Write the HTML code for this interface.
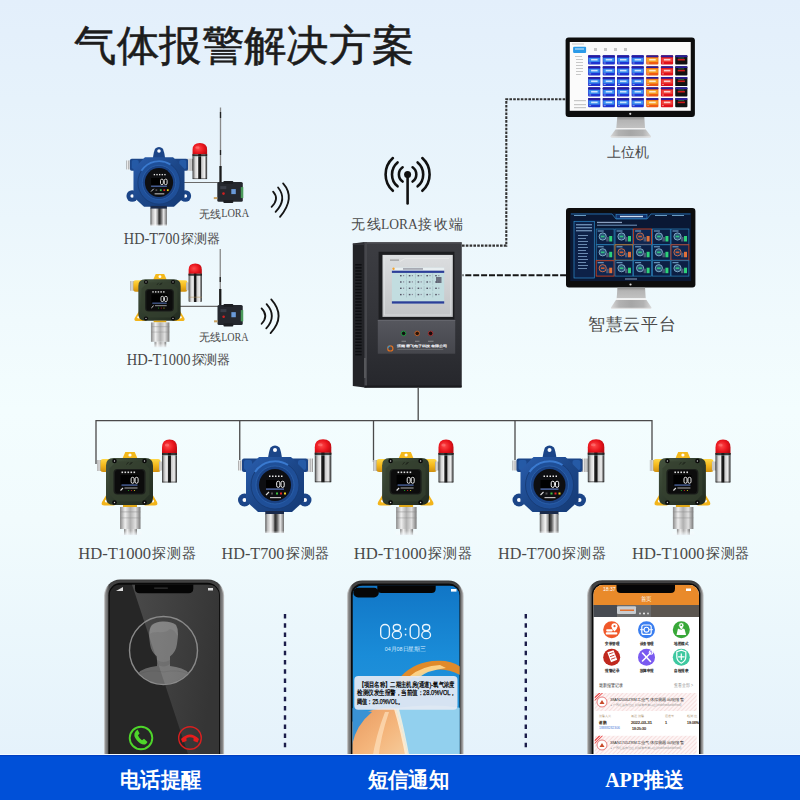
<!DOCTYPE html>
<html><head><meta charset="utf-8">
<style>
html,body{margin:0;padding:0;}
body{width:800px;height:800px;overflow:hidden;position:relative;
 background:linear-gradient(180deg,#e3effb 0px,#e6f2fb 100px,#ebf6fc 220px,#f0fafd 320px,#f3fdfe 410px,#f1fbfd 520px,#ebf7fc 630px,#e5f2fb 755px);
 font-family:"Liberation Sans",sans-serif;}
svg{position:absolute;left:0;top:0;}
.lbl{font-family:"Liberation Serif",serif;fill:#4a4a4a;}
</style></head><body>
<svg width="800" height="800" viewBox="0 0 800 800">
<defs>
 <linearGradient id="silver" x1="0" x2="1" y1="0" y2="0">
  <stop offset="0" stop-color="#5a5a5a"/><stop offset="0.12" stop-color="#bdbdbd"/><stop offset="0.3" stop-color="#f4f4f4"/>
  <stop offset="0.45" stop-color="#9a9a9a"/><stop offset="0.52" stop-color="#2a2a2a"/><stop offset="0.62" stop-color="#555"/>
  <stop offset="0.8" stop-color="#e6e6e6"/><stop offset="1" stop-color="#6a6a6a"/>
 </linearGradient>
 <linearGradient id="silver2" x1="0" x2="1" y1="0" y2="0">
  <stop offset="0" stop-color="#8a8a8a"/><stop offset="0.25" stop-color="#eeeeee"/><stop offset="0.5" stop-color="#b0b0b0"/>
  <stop offset="0.75" stop-color="#e0e0e0"/><stop offset="1" stop-color="#7a7a7a"/>
 </linearGradient>
 <linearGradient id="sensorfade" x1="0" x2="0" y1="0" y2="1">
  <stop offset="0" stop-color="#fff" stop-opacity="0"/><stop offset="0.7" stop-color="#fff" stop-opacity="0"/><stop offset="1" stop-color="#f0f8fc" stop-opacity="0.9"/>
 </linearGradient>
 <radialGradient id="reddome" cx="0.4" cy="0.45" r="0.65">
  <stop offset="0" stop-color="#ff4a4a"/><stop offset="0.6" stop-color="#e8141c"/><stop offset="1" stop-color="#b80a10"/>
 </radialGradient>
 <linearGradient id="yellow" x1="0" x2="0" y1="0" y2="1">
  <stop offset="0" stop-color="#ffd84a"/><stop offset="0.45" stop-color="#f6bb1e"/><stop offset="1" stop-color="#d09010"/>
 </linearGradient>
 <linearGradient id="olive" x1="0" x2="1" y1="0" y2="1">
  <stop offset="0" stop-color="#46543f"/><stop offset="0.5" stop-color="#2f3b2c"/><stop offset="1" stop-color="#222b20"/>
 </linearGradient>
 <linearGradient id="blueb" x1="0" x2="1" y1="0" y2="1">
  <stop offset="0" stop-color="#2a5eae"/><stop offset="0.5" stop-color="#1c4789"/><stop offset="1" stop-color="#143a76"/>
 </linearGradient>
 <g id="alarm">
  <path d="M1 1 L1 -5.5 Q1 -13.5 8.5 -13.5 Q16 -13.5 16 -5.5 L16 1 Z" fill="url(#reddome)"/>
  <ellipse cx="6" cy="-8" rx="2.2" ry="1.5" fill="#ff8a8a" opacity="0.5"/>
  <path d="M1 0 L16 0 L16 28.5 Q16 29.5 15 29.5 L2 29.5 Q1 29.5 1 28.5 Z" fill="url(#silverA)"/>
  <rect x="1" y="0" width="15" height="2.2" fill="#1a1a1a" opacity="0.85"/>
  <rect x="1" y="2.2" width="15" height="0.6" fill="#8fb8b8" opacity="0.6"/>
  <rect x="1" y="28.6" width="15" height="0.9" fill="#222" opacity="0.7"/>
 </g>
 <g id="t1000">
  <rect x="-32.5" y="-21.5" width="3.8" height="11" fill="url(#silver2)"/>
  <rect x="-29" y="-22.5" width="60" height="13" rx="2.5" fill="url(#yellow)"/>
  <path d="M-7 -23 L-4.2 -29.5 L5.2 -29.5 L8 -23 Z" fill="#f4b91c"/>
  <circle cx="0.5" cy="-26.5" r="1.6" fill="#fff"/>
  <path d="M-20 8 L-27.5 20.5 Q-29 24 -25 24 L-15 24 Z" fill="#f2b41a"/>
  <path d="M20 8 L27.5 20.5 Q29 24 25 24 L15 24 Z" fill="#f2b41a"/>
  <circle cx="-23" cy="19.5" r="1.6" fill="#fff"/><circle cx="23" cy="19.5" r="1.6" fill="#fff"/>
  <rect x="29.5" y="-20" width="4" height="9" fill="url(#silver2)"/>
  <path d="M-16 -23.5 L16 -23.5 Q23.5 -23.5 23.5 -16 L23.5 16 Q23.5 23.5 16 23.5 L-16 23.5 Q-23.5 23.5 -23.5 16 L-23.5 -16 Q-23.5 -23.5 -16 -23.5 Z" fill="url(#olive)"/>
  <path d="M-13 -20 L13 -20 L20 -13 L20 13 L13 20 L-13 20 L-20 13 L-20 -13 Z" fill="#34402f" opacity="0.7"/>
  <circle cx="-15" cy="-20.5" r="2.3" fill="#0a0a0a"/><circle cx="15" cy="-20.5" r="2.3" fill="#0a0a0a"/>
  <circle cx="-15" cy="21" r="2.3" fill="#0a0a0a"/><circle cx="15" cy="21" r="2.3" fill="#0a0a0a"/>
  <circle cx="-15" cy="-20.5" r="0.7" fill="#ccc"/><circle cx="15" cy="-20.5" r="0.7" fill="#ccc"/>
  <circle cx="-15" cy="21" r="0.7" fill="#ccc"/><circle cx="15" cy="21" r="0.7" fill="#ccc"/>
  <path d="M-3 -17 L-1 -19.5 M0 -17 L2 -19.5 M1 -17 L3 -19.5" stroke="#1a1f18" stroke-width="0.8"/>
  <rect x="-16" y="-12.5" width="32" height="25.5" rx="4" fill="#1a1d1a"/>
  <rect x="-14.5" y="-11.5" width="29" height="23.5" rx="3" fill="#0c0c0c"/>
  <g fill="#ddd"><rect x="-8" y="-10" width="1.6" height="1.6"/><rect x="-5" y="-10" width="1.6" height="1.6"/><rect x="-2" y="-10" width="1.6" height="1.6"/><rect x="1" y="-10" width="1.6" height="1.6"/><rect x="4" y="-10" width="1.6" height="1.6"/></g>
  <rect x="-9" y="-6.5" width="18" height="10" fill="#000"/>
  <rect x="1.6" y="-4.2" width="3" height="6" rx="1.5" fill="none" stroke="#f2f2f2" stroke-width="0.95"/><rect x="5.6" y="-4.2" width="3" height="6" rx="1.5" fill="none" stroke="#f2f2f2" stroke-width="0.95"/>
  <rect x="-8" y="3" width="16" height="1.1" fill="#5a78c0"/>
  <path d="M-9 9 L-6.5 6.5" stroke="#ddd" stroke-width="1.1"/>
  <rect x="-5" y="6" width="13" height="1" fill="#aaa"/>
  <circle cx="-1" cy="9" r="0.6" fill="#2a2"/><circle cx="2" cy="9" r="0.6" fill="#c22"/><circle cx="5" cy="9" r="0.6" fill="#cc2"/>
  <rect x="-6.5" y="23.5" width="14" height="2" fill="#e0a818"/>
  <rect x="-9.5" y="25.5" width="20.5" height="22" fill="url(#silver2)"/>
  <rect x="-9.5" y="30" width="20.5" height="0.8" fill="#888" opacity="0.6"/>
  <rect x="-9.5" y="36" width="20.5" height="0.8" fill="#888" opacity="0.5"/>
  <rect x="-5.5" y="47.5" width="13" height="6" fill="url(#silver2)"/>
  <rect x="-10" y="38" width="22" height="16" fill="url(#sensorfade)"/>
 </g>
 <g id="t700">
  <rect x="-37" y="-24.5" width="5" height="10" fill="url(#silver2)"/>
  <rect x="32.5" y="-26.5" width="5.5" height="13.5" fill="url(#silver2)"/>
  <rect x="-33" y="-26.5" width="66" height="13.5" rx="2" fill="#1b4588"/>
  <rect x="-31" y="-25" width="8" height="10" rx="2" fill="#255aa6"/>
  <rect x="23" y="-25" width="8" height="10" rx="2" fill="#255aa6"/>
  <path d="M-7 -27 Q-6 -34 -4.5 -37.5 Q0 -41.5 4.5 -37.5 Q6 -34 7 -27 Z" fill="#1b4588"/>
  <circle cx="0" cy="-35" r="2" fill="#fff"/>
  <circle cx="-30.5" cy="15" r="6.5" fill="#1b4588"/>
  <circle cx="30" cy="15" r="6.5" fill="#1b4588"/>
  <circle cx="-30.5" cy="15" r="2" fill="#fff"/>
  <circle cx="30" cy="15" r="2" fill="#fff"/>
  <path d="M-16 -28 L16 -28 L29 -15 L29 16 L17 27 L-17 27 L-29 16 L-29 -15 Z" fill="url(#blueb)"/>
  <rect x="-9.75" y="26" width="18.75" height="3.5" fill="#1a2a4a"/>
  <rect x="-9.75" y="29" width="18.75" height="19" fill="url(#silver)"/>
  <rect x="-10.5" y="38" width="20.5" height="11" fill="url(#sensorfade)"/>
  <circle cx="0" cy="0" r="24" fill="#1f4f98" stroke="#163a72" stroke-width="0.8"/>
  <path d="M-20 -13 A24 24 0 0 1 13 -20" fill="none" stroke="#3a7ad0" stroke-width="2"/>
  <circle cx="0" cy="0" r="19" fill="#1a4284" stroke="#2c64b0" stroke-width="0.8"/>
  <circle cx="0" cy="0" r="16" fill="#0e0f12"/>
  <g fill="#e8e8e8"><rect x="-6" y="-9.5" width="1.5" height="1.5"/><rect x="-3" y="-9.5" width="1.5" height="1.5"/><rect x="0" y="-9.5" width="1.5" height="1.5"/><rect x="3" y="-9.5" width="1.5" height="1.5"/><rect x="6" y="-9.5" width="1.5" height="1.5"/></g>
  <rect x="-9" y="-5" width="17" height="8" fill="#000"/>
  <rect x="1.7" y="-3.8" width="3.2" height="6.2" rx="1.6" fill="none" stroke="#f2f2f2" stroke-width="1"/><rect x="6" y="-3.8" width="3.2" height="6.2" rx="1.6" fill="none" stroke="#f2f2f2" stroke-width="1"/>
  <rect x="-9" y="3.5" width="18" height="1.2" fill="#5a78c0"/>
  <path d="M-9 10 L-6 7" stroke="#ddd" stroke-width="1.1"/>
  <rect x="-4" y="7.5" width="2" height="2" fill="#555"/>
  <rect x="1" y="7.5" width="2" height="2" fill="#3ec03e"/><rect x="5" y="7.5" width="2" height="2" fill="#e02424"/><rect x="9" y="7.5" width="2" height="2" fill="#e8d020"/>
  <rect x="-5" y="12" width="11" height="1.2" fill="#bbb"/>
 </g>
 <g id="lora">
  <rect x="0" y="0" width="25.5" height="19.7" rx="1.5" fill="#25282e"/>
  <rect x="6" y="-1" width="10" height="3" rx="1" fill="#1c1e22"/>
  <rect x="6" y="18" width="10" height="3" rx="1" fill="#1c1e22"/>
  <rect x="14" y="7" width="4.5" height="5" fill="#6a9ad8"/>
  <rect x="23.5" y="5" width="2.5" height="11" fill="#4a9a5a"/>
  <circle cx="6.2" cy="11.5" r="1.3" fill="#d02020"/>
  <rect x="3" y="4" width="6" height="3" fill="#3a3e48"/>
  <rect x="-3.5" y="15" width="3.5" height="2" fill="#c8a060"/>
 </g>
 <linearGradient id="neck" x1="0" x2="0" y1="0" y2="1">
  <stop offset="0" stop-color="#8e8e8e"/><stop offset="0.3" stop-color="#b4b4b4"/><stop offset="1" stop-color="#c2c2c2"/>
 </linearGradient>
 <linearGradient id="base" x1="0" x2="1" y1="0" y2="0">
  <stop offset="0" stop-color="#d8d8d8"/><stop offset="0.2" stop-color="#b2b2b2"/><stop offset="0.5" stop-color="#a6a6a6"/><stop offset="0.8" stop-color="#b2b2b2"/><stop offset="1" stop-color="#d8d8d8"/>
 </linearGradient>
 <linearGradient id="silverA" x1="0" x2="1" y1="0" y2="0">
  <stop offset="0" stop-color="#2a2a2a"/><stop offset="0.08" stop-color="#8a8a8a"/><stop offset="0.2" stop-color="#d8d8d8"/>
  <stop offset="0.36" stop-color="#f2f2f2"/><stop offset="0.42" stop-color="#222"/><stop offset="0.56" stop-color="#111"/>
  <stop offset="0.62" stop-color="#c8c8c8"/><stop offset="0.82" stop-color="#ededed"/><stop offset="0.93" stop-color="#666"/><stop offset="1" stop-color="#222"/>
 </linearGradient>
 <linearGradient id="pframe" x1="0" x2="1" y1="0" y2="0">
  <stop offset="0" stop-color="#b4b4b4"/><stop offset="0.015" stop-color="#c4c4c4"/><stop offset="0.045" stop-color="#3a3a3a"/>
  <stop offset="0.955" stop-color="#3a3a3a"/><stop offset="0.985" stop-color="#c4c4c4"/><stop offset="1" stop-color="#b4b4b4"/>
 </linearGradient>
</defs>

<!-- title -->
<text x="74" y="60" font-size="42" fill="#1c1c1c" font-family="Liberation Sans" textLength="340" lengthAdjust="spacingAndGlyphs" stroke="#1c1c1c" stroke-width="0.55">气体报警解决方案</text>


<!-- dashed connection lines -->
<path d="M462 245.6 L506.3 245.6 L506.3 99.2 L565.6 99.2" fill="none" stroke="#333" stroke-width="2.1" stroke-dasharray="2.6 1.2"/>
<path d="M462.5 275.3 L566 275.3" fill="none" stroke="#151515" stroke-width="2.1" stroke-dasharray="1 1.8 6 1.9 6 1.9 6 1.9 6 1.9 6 1.9 6 1.9 6 1.9 6 1.9 6 1.9 6 1.9 6 1.9 6 1.9 6 1.9 6 1.9"/>

<!-- monitor 1 -->
<g id="mon1">
 <rect x="565.6" y="37.4" width="129.3" height="79.7" rx="3" fill="#0d0d0d"/>
 <rect x="569.75" y="42" width="121" height="68.8" fill="#fbfbfb"/>
 <circle cx="630.25" cy="113.8" r="1.1" fill="#ddd"/>
 <path d="M617.3 117.1 L644.3 117.1 L645 128 L616.3 128 Z" fill="url(#neck)"/>
 <path d="M616 128 L645.3 128 L645.8 129.6 L615.5 129.6 Z" fill="#f2f2f2"/>
 <path d="M615.5 129.6 L645.8 129.6 L651 136.2 Q651 137.4 649.5 137.4 L612 137.4 Q610.5 137.4 610.5 136.2 Z" fill="url(#base)"/>
 <rect x="611" y="136.4" width="39.5" height="1" fill="#e6e6e6"/>
</g>
<g id="scr1">
 <rect x="573.1" y="46.7" width="13" height="6.2" rx="1" fill="#2a9ae8"/>
 <rect x="575" y="48.5" width="9" height="1" fill="#fff" opacity="0.8"/>
 <g fill="#c8c8c8">
  <rect x="575" y="56" width="7" height="1"/><rect x="576" y="59" width="7" height="1"/><rect x="576" y="62" width="7" height="1"/>
  <rect x="576" y="65" width="7" height="1"/><rect x="576" y="68" width="7" height="1"/><rect x="576" y="71" width="7" height="1"/>
  <rect x="576" y="74" width="5" height="1"/>
  <rect x="574" y="100" width="12" height="1.2"/><rect x="574" y="104" width="12" height="1.2"/><rect x="574" y="107" width="12" height="1.2"/>
  <rect x="594" y="48" width="3" height="3"/><rect x="604" y="48" width="3" height="3"/><rect x="614" y="48" width="3" height="3"/><rect x="624" y="48" width="3" height="3"/>
  <rect x="572" y="43.5" width="12" height="1"/>
 </g>
<rect x="588.1" y="55.3" width="12.2" height="9.2" rx="0.9" fill="#1e34d2"/>
<rect x="588.1" y="55.3" width="12.2" height="1.9" rx="0.6" fill="#2a1c9a"/>
<rect x="588.7" y="57.9" width="11" height="4" fill="#3a90f0"/>
<rect x="591.1" y="58.9" width="6.5" height="1.6" fill="#fff" opacity="0.75"/>
<rect x="589.1" y="62.6" width="2" height="0.8" fill="#fff" opacity="0.6"/>
<rect x="602.7" y="55.3" width="12.2" height="9.2" rx="0.9" fill="#1e34d2"/>
<rect x="602.7" y="55.3" width="12.2" height="1.9" rx="0.6" fill="#2a1c9a"/>
<rect x="603.3" y="57.9" width="11" height="4" fill="#3a90f0"/>
<rect x="605.7" y="58.9" width="6.5" height="1.6" fill="#fff" opacity="0.75"/>
<rect x="603.7" y="62.6" width="2" height="0.8" fill="#fff" opacity="0.6"/>
<rect x="617.0" y="55.3" width="12.2" height="9.2" rx="0.9" fill="#1e34d2"/>
<rect x="617.0" y="55.3" width="12.2" height="1.9" rx="0.6" fill="#2a1c9a"/>
<rect x="617.6" y="57.9" width="11" height="4" fill="#3a90f0"/>
<rect x="620.0" y="58.9" width="6.5" height="1.6" fill="#fff" opacity="0.75"/>
<rect x="618.0" y="62.6" width="2" height="0.8" fill="#fff" opacity="0.6"/>
<rect x="631.6" y="55.3" width="12.2" height="9.2" rx="0.9" fill="#1e34d2"/>
<rect x="631.6" y="55.3" width="12.2" height="1.9" rx="0.6" fill="#2a1c9a"/>
<rect x="632.2" y="57.9" width="11" height="4" fill="#3a90f0"/>
<rect x="634.6" y="58.9" width="6.5" height="1.6" fill="#fff" opacity="0.75"/>
<rect x="632.6" y="62.6" width="2" height="0.8" fill="#fff" opacity="0.6"/>
<rect x="646.2" y="55.3" width="12.2" height="9.2" rx="0.9" fill="#f05a12"/>
<rect x="646.2" y="55.3" width="12.2" height="1.9" rx="0.6" fill="#2a1c9a"/>
<rect x="646.8" y="57.9" width="11" height="4" fill="#f8a428"/>
<rect x="649.2" y="58.9" width="6.5" height="1.6" fill="#fff" opacity="0.75"/>
<rect x="647.2" y="62.6" width="2" height="0.8" fill="#fff" opacity="0.6"/>
<rect x="660.9" y="55.3" width="12.2" height="9.2" rx="0.9" fill="#e0101a"/>
<rect x="660.9" y="55.3" width="12.2" height="1.9" rx="0.6" fill="#2a1c9a"/>
<rect x="661.5" y="57.9" width="11" height="4" fill="#f04038"/>
<rect x="663.9" y="58.9" width="6.5" height="1.6" fill="#fff" opacity="0.75"/>
<rect x="661.9" y="62.6" width="2" height="0.8" fill="#fff" opacity="0.6"/>
<rect x="675.2" y="55.3" width="12.2" height="9.2" rx="0.9" fill="#121212"/>
<rect x="675.2" y="55.3" width="12.2" height="1.9" rx="0.6" fill="#2a1c9a"/>
<rect x="677.7" y="58.9" width="7.2" height="1.6" fill="#d01818"/>
<rect x="678.2" y="57.7" width="6" height="0.6" fill="#3a8a5a"/>
<rect x="588.1" y="66.2" width="12.2" height="9.2" rx="0.9" fill="#1e34d2"/>
<rect x="588.1" y="66.2" width="12.2" height="1.9" rx="0.6" fill="#2a1c9a"/>
<rect x="588.7" y="68.8" width="11" height="4" fill="#3a90f0"/>
<rect x="591.1" y="69.8" width="6.5" height="1.6" fill="#fff" opacity="0.75"/>
<rect x="589.1" y="73.5" width="2" height="0.8" fill="#fff" opacity="0.6"/>
<rect x="602.7" y="66.2" width="12.2" height="9.2" rx="0.9" fill="#1e34d2"/>
<rect x="602.7" y="66.2" width="12.2" height="1.9" rx="0.6" fill="#2a1c9a"/>
<rect x="603.3" y="68.8" width="11" height="4" fill="#3a90f0"/>
<rect x="605.7" y="69.8" width="6.5" height="1.6" fill="#fff" opacity="0.75"/>
<rect x="603.7" y="73.5" width="2" height="0.8" fill="#fff" opacity="0.6"/>
<rect x="617.0" y="66.2" width="12.2" height="9.2" rx="0.9" fill="#1e34d2"/>
<rect x="617.0" y="66.2" width="12.2" height="1.9" rx="0.6" fill="#2a1c9a"/>
<rect x="617.6" y="68.8" width="11" height="4" fill="#3a90f0"/>
<rect x="620.0" y="69.8" width="6.5" height="1.6" fill="#fff" opacity="0.75"/>
<rect x="618.0" y="73.5" width="2" height="0.8" fill="#fff" opacity="0.6"/>
<rect x="631.6" y="66.2" width="12.2" height="9.2" rx="0.9" fill="#1e34d2"/>
<rect x="631.6" y="66.2" width="12.2" height="1.9" rx="0.6" fill="#2a1c9a"/>
<rect x="632.2" y="68.8" width="11" height="4" fill="#3a90f0"/>
<rect x="634.6" y="69.8" width="6.5" height="1.6" fill="#fff" opacity="0.75"/>
<rect x="632.6" y="73.5" width="2" height="0.8" fill="#fff" opacity="0.6"/>
<rect x="646.2" y="66.2" width="12.2" height="9.2" rx="0.9" fill="#f05a12"/>
<rect x="646.2" y="66.2" width="12.2" height="1.9" rx="0.6" fill="#2a1c9a"/>
<rect x="646.8" y="68.8" width="11" height="4" fill="#f8a428"/>
<rect x="649.2" y="69.8" width="6.5" height="1.6" fill="#fff" opacity="0.75"/>
<rect x="647.2" y="73.5" width="2" height="0.8" fill="#fff" opacity="0.6"/>
<rect x="660.9" y="66.2" width="12.2" height="9.2" rx="0.9" fill="#e0101a"/>
<rect x="660.9" y="66.2" width="12.2" height="1.9" rx="0.6" fill="#2a1c9a"/>
<rect x="661.5" y="68.8" width="11" height="4" fill="#f04038"/>
<rect x="663.9" y="69.8" width="6.5" height="1.6" fill="#fff" opacity="0.75"/>
<rect x="661.9" y="73.5" width="2" height="0.8" fill="#fff" opacity="0.6"/>
<rect x="675.2" y="66.2" width="12.2" height="9.2" rx="0.9" fill="#121212"/>
<rect x="675.2" y="66.2" width="12.2" height="1.9" rx="0.6" fill="#2a1c9a"/>
<rect x="677.7" y="69.8" width="7.2" height="1.6" fill="#d01818"/>
<rect x="678.2" y="68.6" width="6" height="0.6" fill="#3a8a5a"/>
<rect x="588.1" y="76.9" width="12.2" height="9.2" rx="0.9" fill="#1e34d2"/>
<rect x="588.1" y="76.9" width="12.2" height="1.9" rx="0.6" fill="#2a1c9a"/>
<rect x="588.7" y="79.5" width="11" height="4" fill="#3a90f0"/>
<rect x="591.1" y="80.5" width="6.5" height="1.6" fill="#fff" opacity="0.75"/>
<rect x="589.1" y="84.2" width="2" height="0.8" fill="#fff" opacity="0.6"/>
<rect x="602.7" y="76.9" width="12.2" height="9.2" rx="0.9" fill="#1e34d2"/>
<rect x="602.7" y="76.9" width="12.2" height="1.9" rx="0.6" fill="#2a1c9a"/>
<rect x="603.3" y="79.5" width="11" height="4" fill="#3a90f0"/>
<rect x="605.7" y="80.5" width="6.5" height="1.6" fill="#fff" opacity="0.75"/>
<rect x="603.7" y="84.2" width="2" height="0.8" fill="#fff" opacity="0.6"/>
<rect x="617.0" y="76.9" width="12.2" height="9.2" rx="0.9" fill="#1e34d2"/>
<rect x="617.0" y="76.9" width="12.2" height="1.9" rx="0.6" fill="#2a1c9a"/>
<rect x="617.6" y="79.5" width="11" height="4" fill="#3a90f0"/>
<rect x="620.0" y="80.5" width="6.5" height="1.6" fill="#fff" opacity="0.75"/>
<rect x="618.0" y="84.2" width="2" height="0.8" fill="#fff" opacity="0.6"/>
<rect x="631.6" y="76.9" width="12.2" height="9.2" rx="0.9" fill="#1e34d2"/>
<rect x="631.6" y="76.9" width="12.2" height="1.9" rx="0.6" fill="#2a1c9a"/>
<rect x="632.2" y="79.5" width="11" height="4" fill="#3a90f0"/>
<rect x="634.6" y="80.5" width="6.5" height="1.6" fill="#fff" opacity="0.75"/>
<rect x="632.6" y="84.2" width="2" height="0.8" fill="#fff" opacity="0.6"/>
<rect x="646.2" y="76.9" width="12.2" height="9.2" rx="0.9" fill="#f05a12"/>
<rect x="646.2" y="76.9" width="12.2" height="1.9" rx="0.6" fill="#2a1c9a"/>
<rect x="646.8" y="79.5" width="11" height="4" fill="#f8a428"/>
<rect x="649.2" y="80.5" width="6.5" height="1.6" fill="#fff" opacity="0.75"/>
<rect x="647.2" y="84.2" width="2" height="0.8" fill="#fff" opacity="0.6"/>
<rect x="660.9" y="76.9" width="12.2" height="9.2" rx="0.9" fill="#e0101a"/>
<rect x="660.9" y="76.9" width="12.2" height="1.9" rx="0.6" fill="#2a1c9a"/>
<rect x="661.5" y="79.5" width="11" height="4" fill="#f04038"/>
<rect x="663.9" y="80.5" width="6.5" height="1.6" fill="#fff" opacity="0.75"/>
<rect x="661.9" y="84.2" width="2" height="0.8" fill="#fff" opacity="0.6"/>
<rect x="675.2" y="76.9" width="12.2" height="9.2" rx="0.9" fill="#121212"/>
<rect x="675.2" y="76.9" width="12.2" height="1.9" rx="0.6" fill="#2a1c9a"/>
<rect x="677.7" y="80.5" width="7.2" height="1.6" fill="#d01818"/>
<rect x="678.2" y="79.3" width="6" height="0.6" fill="#3a8a5a"/>
<rect x="588.1" y="87.3" width="12.2" height="9.2" rx="0.9" fill="#1e34d2"/>
<rect x="588.1" y="87.3" width="12.2" height="1.9" rx="0.6" fill="#2a1c9a"/>
<rect x="588.7" y="89.9" width="11" height="4" fill="#3a90f0"/>
<rect x="591.1" y="90.9" width="6.5" height="1.6" fill="#fff" opacity="0.75"/>
<rect x="589.1" y="94.6" width="2" height="0.8" fill="#fff" opacity="0.6"/>
<rect x="602.7" y="87.3" width="12.2" height="9.2" rx="0.9" fill="#1e34d2"/>
<rect x="602.7" y="87.3" width="12.2" height="1.9" rx="0.6" fill="#2a1c9a"/>
<rect x="603.3" y="89.9" width="11" height="4" fill="#3a90f0"/>
<rect x="605.7" y="90.9" width="6.5" height="1.6" fill="#fff" opacity="0.75"/>
<rect x="603.7" y="94.6" width="2" height="0.8" fill="#fff" opacity="0.6"/>
<rect x="617.0" y="87.3" width="12.2" height="9.2" rx="0.9" fill="#1e34d2"/>
<rect x="617.0" y="87.3" width="12.2" height="1.9" rx="0.6" fill="#2a1c9a"/>
<rect x="617.6" y="89.9" width="11" height="4" fill="#3a90f0"/>
<rect x="620.0" y="90.9" width="6.5" height="1.6" fill="#fff" opacity="0.75"/>
<rect x="618.0" y="94.6" width="2" height="0.8" fill="#fff" opacity="0.6"/>
<rect x="631.6" y="87.3" width="12.2" height="9.2" rx="0.9" fill="#1e34d2"/>
<rect x="631.6" y="87.3" width="12.2" height="1.9" rx="0.6" fill="#2a1c9a"/>
<rect x="632.2" y="89.9" width="11" height="4" fill="#3a90f0"/>
<rect x="634.6" y="90.9" width="6.5" height="1.6" fill="#fff" opacity="0.75"/>
<rect x="632.6" y="94.6" width="2" height="0.8" fill="#fff" opacity="0.6"/>
<rect x="646.2" y="87.3" width="12.2" height="9.2" rx="0.9" fill="#f05a12"/>
<rect x="646.2" y="87.3" width="12.2" height="1.9" rx="0.6" fill="#2a1c9a"/>
<rect x="646.8" y="89.9" width="11" height="4" fill="#f8a428"/>
<rect x="649.2" y="90.9" width="6.5" height="1.6" fill="#fff" opacity="0.75"/>
<rect x="647.2" y="94.6" width="2" height="0.8" fill="#fff" opacity="0.6"/>
<rect x="660.9" y="87.3" width="12.2" height="9.2" rx="0.9" fill="#e0101a"/>
<rect x="660.9" y="87.3" width="12.2" height="1.9" rx="0.6" fill="#2a1c9a"/>
<rect x="661.5" y="89.9" width="11" height="4" fill="#f04038"/>
<rect x="663.9" y="90.9" width="6.5" height="1.6" fill="#fff" opacity="0.75"/>
<rect x="661.9" y="94.6" width="2" height="0.8" fill="#fff" opacity="0.6"/>
<rect x="675.2" y="87.3" width="12.2" height="9.2" rx="0.9" fill="#121212"/>
<rect x="675.2" y="87.3" width="12.2" height="1.9" rx="0.6" fill="#2a1c9a"/>
<rect x="677.7" y="90.9" width="7.2" height="1.6" fill="#d01818"/>
<rect x="678.2" y="89.7" width="6" height="0.6" fill="#3a8a5a"/>
<rect x="588.1" y="98.0" width="12.2" height="9.2" rx="0.9" fill="#1e34d2"/>
<rect x="588.1" y="98.0" width="12.2" height="1.9" rx="0.6" fill="#2a1c9a"/>
<rect x="588.7" y="100.6" width="11" height="4" fill="#3a90f0"/>
<rect x="591.1" y="101.6" width="6.5" height="1.6" fill="#fff" opacity="0.75"/>
<rect x="589.1" y="105.3" width="2" height="0.8" fill="#fff" opacity="0.6"/>
<rect x="602.7" y="98.0" width="12.2" height="9.2" rx="0.9" fill="#1e34d2"/>
<rect x="602.7" y="98.0" width="12.2" height="1.9" rx="0.6" fill="#2a1c9a"/>
<rect x="603.3" y="100.6" width="11" height="4" fill="#3a90f0"/>
<rect x="605.7" y="101.6" width="6.5" height="1.6" fill="#fff" opacity="0.75"/>
<rect x="603.7" y="105.3" width="2" height="0.8" fill="#fff" opacity="0.6"/>
<rect x="617.0" y="98.0" width="12.2" height="9.2" rx="0.9" fill="#1e34d2"/>
<rect x="617.0" y="98.0" width="12.2" height="1.9" rx="0.6" fill="#2a1c9a"/>
<rect x="617.6" y="100.6" width="11" height="4" fill="#3a90f0"/>
<rect x="620.0" y="101.6" width="6.5" height="1.6" fill="#fff" opacity="0.75"/>
<rect x="618.0" y="105.3" width="2" height="0.8" fill="#fff" opacity="0.6"/>
<rect x="631.6" y="98.0" width="12.2" height="9.2" rx="0.9" fill="#1e34d2"/>
<rect x="631.6" y="98.0" width="12.2" height="1.9" rx="0.6" fill="#2a1c9a"/>
<rect x="632.2" y="100.6" width="11" height="4" fill="#3a90f0"/>
<rect x="634.6" y="101.6" width="6.5" height="1.6" fill="#fff" opacity="0.75"/>
<rect x="632.6" y="105.3" width="2" height="0.8" fill="#fff" opacity="0.6"/>
<rect x="646.2" y="98.0" width="12.2" height="9.2" rx="0.9" fill="#f05a12"/>
<rect x="646.2" y="98.0" width="12.2" height="1.9" rx="0.6" fill="#2a1c9a"/>
<rect x="646.8" y="100.6" width="11" height="4" fill="#f8a428"/>
<rect x="649.2" y="101.6" width="6.5" height="1.6" fill="#fff" opacity="0.75"/>
<rect x="647.2" y="105.3" width="2" height="0.8" fill="#fff" opacity="0.6"/>
<rect x="660.9" y="98.0" width="12.2" height="9.2" rx="0.9" fill="#e0101a"/>
<rect x="660.9" y="98.0" width="12.2" height="1.9" rx="0.6" fill="#2a1c9a"/>
<rect x="661.5" y="100.6" width="11" height="4" fill="#f04038"/>
<rect x="663.9" y="101.6" width="6.5" height="1.6" fill="#fff" opacity="0.75"/>
<rect x="661.9" y="105.3" width="2" height="0.8" fill="#fff" opacity="0.6"/>
<rect x="675.2" y="98.0" width="12.2" height="9.2" rx="0.9" fill="#121212"/>
<rect x="675.2" y="98.0" width="12.2" height="1.9" rx="0.6" fill="#2a1c9a"/>
<rect x="677.7" y="101.6" width="7.2" height="1.6" fill="#d01818"/>
<rect x="678.2" y="100.4" width="6" height="0.6" fill="#3a8a5a"/>
</g>

<!-- monitor 2 -->
<g>
 <rect x="566" y="208" width="129.4" height="79.6" rx="3" fill="#0d0d0d"/>
 <rect x="570.25" y="212.9" width="120.85" height="68.2" fill="#0a1834"/>
 <circle cx="630.5" cy="284.5" r="1.1" fill="#ddd"/>
 <path d="M617.4 287.6 L645 287.6 L645.7 298.3 L616.7 298.3 Z" fill="url(#neck)"/>
 <path d="M616.4 298.3 L646 298.3 L646.5 299.9 L615.9 299.9 Z" fill="#f2f2f2"/>
 <path d="M615.9 299.9 L646.5 299.9 L651.5 307.6 Q651.5 308.8 650 308.8 L612.5 308.8 Q611 308.8 611 307.6 Z" fill="url(#base)"/>
 <rect x="611.5" y="307.8" width="39.5" height="1" fill="#e6e6e6"/>
</g>


<g>
 <path d="M571 214 L612 214 L616 219 L647 219 L651 214 L690.4 214" fill="none" stroke="#2a7ab8" stroke-width="0.8"/>
 <rect x="616" y="214.5" width="31" height="4" fill="#12306a" stroke="#3a90d0" stroke-width="0.6"/>
 <rect x="620" y="215.8" width="23" height="1.4" fill="#cfe0f0"/>
 <rect x="574" y="215" width="12" height="1" fill="#6a9ac0"/><rect x="655" y="215" width="12" height="1" fill="#6a9ac0"/><rect x="672" y="215" width="12" height="1" fill="#6a9ac0"/>
 <rect x="574" y="221.3" width="20.3" height="56.7" fill="#0d2148" stroke="#2f8ed0" stroke-width="0.7"/>
 <g fill="#6a8ab0">
  <rect x="576" y="224" width="16" height="1.4"/><rect x="576" y="227" width="16" height="1.4"/><rect x="576" y="230" width="16" height="1.4"/>
  <rect x="578" y="235" width="10" height="1"/><rect x="578" y="238" width="8" height="1"/><rect x="578" y="241" width="10" height="1"/>
  <rect x="578" y="244" width="9" height="1"/><rect x="578" y="247" width="10" height="1"/><rect x="578" y="250" width="8" height="1"/>
  <rect x="578" y="253" width="10" height="1"/><rect x="578" y="256" width="9" height="1"/><rect x="578" y="259" width="10" height="1"/>
  <rect x="578" y="262" width="8" height="1"/><rect x="578" y="265" width="10" height="1"/><rect x="578" y="268" width="9" height="1"/>
 </g>
 <rect x="597" y="221.8" width="25" height="1.3" fill="#8aa0c0"/>
 <rect x="597" y="224.6" width="40" height="1.3" fill="#5a7aa0"/>
 <rect x="625" y="278.5" width="12" height="1" fill="#8aa0c0"/>
<rect x="596.2" y="229.0" width="17.9" height="15.4" fill="#0c1f44" stroke="#2a80b8" stroke-width="0.75"/>
<circle cx="602.7" cy="236.5" r="3.6" fill="#2a5478" stroke="#8ab4d0" stroke-width="0.9"/>
<rect x="600.9" y="235.7" width="3.6" height="1.6" fill="#30c080"/>
<rect x="609.2" y="236.0" width="3" height="5.5" fill="#2ed07a"/>
<rect x="606.2" y="237.0" width="2.5" height="4.5" fill="#4a5a78"/>
<rect x="597.7" y="230.5" width="6" height="1" fill="#7ab0d8"/>
<rect x="615.0" y="229.0" width="17.9" height="15.4" fill="#0c1f44" stroke="#2a80b8" stroke-width="0.75"/>
<circle cx="621.5" cy="236.5" r="3.6" fill="#2a5478" stroke="#8ab4d0" stroke-width="0.9"/>
<rect x="619.7" y="235.7" width="3.6" height="1.6" fill="#30c080"/>
<rect x="628.0" y="236.0" width="3" height="5.5" fill="#2ed07a"/>
<rect x="625.0" y="237.0" width="2.5" height="4.5" fill="#4a5a78"/>
<rect x="616.5" y="230.5" width="6" height="1" fill="#7ab0d8"/>
<rect x="633.6" y="229.0" width="17.9" height="15.4" fill="#0f2650" stroke="#c8401e" stroke-width="0.9"/>
<circle cx="640.1" cy="236.5" r="3.6" fill="#1a3a66" stroke="#c86a4a" stroke-width="1"/>
<rect x="638.3" y="235.7" width="3.6" height="1.6" fill="#d05a30"/>
<rect x="646.6" y="236.0" width="3" height="5.5" fill="#e0703a"/>
<rect x="643.6" y="237.0" width="2.5" height="4.5" fill="#4a5a78"/>
<rect x="635.1" y="230.5" width="6" height="1" fill="#7ab0d8"/>
<rect x="652.4" y="229.0" width="17.9" height="15.4" fill="#0c1f44" stroke="#2a80b8" stroke-width="0.75"/>
<circle cx="658.9" cy="236.5" r="3.6" fill="#2a5478" stroke="#8ab4d0" stroke-width="0.9"/>
<rect x="657.1" y="235.7" width="3.6" height="1.6" fill="#30c080"/>
<rect x="665.4" y="236.0" width="3" height="5.5" fill="#2ed07a"/>
<rect x="662.4" y="237.0" width="2.5" height="4.5" fill="#4a5a78"/>
<rect x="653.9" y="230.5" width="6" height="1" fill="#7ab0d8"/>
<rect x="671.0" y="229.0" width="17.9" height="15.4" fill="#0c1f44" stroke="#2a80b8" stroke-width="0.75"/>
<circle cx="677.5" cy="236.5" r="3.6" fill="#2a5478" stroke="#8ab4d0" stroke-width="0.9"/>
<rect x="675.7" y="235.7" width="3.6" height="1.6" fill="#30c080"/>
<rect x="684.0" y="236.0" width="3" height="5.5" fill="#2ed07a"/>
<rect x="681.0" y="237.0" width="2.5" height="4.5" fill="#4a5a78"/>
<rect x="672.5" y="230.5" width="6" height="1" fill="#7ab0d8"/>
<rect x="596.2" y="244.8" width="17.9" height="15.4" fill="#0c1f44" stroke="#2a80b8" stroke-width="0.75"/>
<circle cx="602.7" cy="252.3" r="3.6" fill="#2a5478" stroke="#8ab4d0" stroke-width="0.9"/>
<rect x="600.9" y="251.5" width="3.6" height="1.6" fill="#30c080"/>
<rect x="609.2" y="251.8" width="3" height="5.5" fill="#2ed07a"/>
<rect x="606.2" y="252.8" width="2.5" height="4.5" fill="#4a5a78"/>
<rect x="597.7" y="246.3" width="6" height="1" fill="#7ab0d8"/>
<rect x="615.0" y="244.8" width="17.9" height="15.4" fill="#0f2650" stroke="#d07a20" stroke-width="0.9"/>
<circle cx="621.5" cy="252.3" r="3.6" fill="#1a3a66" stroke="#c86a4a" stroke-width="1"/>
<rect x="619.7" y="251.5" width="3.6" height="1.6" fill="#d05a30"/>
<rect x="628.0" y="251.8" width="3" height="5.5" fill="#e0703a"/>
<rect x="625.0" y="252.8" width="2.5" height="4.5" fill="#4a5a78"/>
<rect x="616.5" y="246.3" width="6" height="1" fill="#7ab0d8"/>
<rect x="633.6" y="244.8" width="17.9" height="15.4" fill="#0c1f44" stroke="#2a80b8" stroke-width="0.75"/>
<circle cx="640.1" cy="252.3" r="3.6" fill="#2a5478" stroke="#8ab4d0" stroke-width="0.9"/>
<rect x="638.3" y="251.5" width="3.6" height="1.6" fill="#30c080"/>
<rect x="646.6" y="251.8" width="3" height="5.5" fill="#2ed07a"/>
<rect x="643.6" y="252.8" width="2.5" height="4.5" fill="#4a5a78"/>
<rect x="635.1" y="246.3" width="6" height="1" fill="#7ab0d8"/>
<rect x="652.4" y="244.8" width="17.9" height="15.4" fill="#0c1f44" stroke="#2a80b8" stroke-width="0.75"/>
<circle cx="658.9" cy="252.3" r="3.6" fill="#2a5478" stroke="#8ab4d0" stroke-width="0.9"/>
<rect x="657.1" y="251.5" width="3.6" height="1.6" fill="#30c080"/>
<rect x="665.4" y="251.8" width="3" height="5.5" fill="#2ed07a"/>
<rect x="662.4" y="252.8" width="2.5" height="4.5" fill="#4a5a78"/>
<rect x="653.9" y="246.3" width="6" height="1" fill="#7ab0d8"/>
<rect x="671.0" y="244.8" width="17.9" height="15.4" fill="#0f2650" stroke="#c8401e" stroke-width="0.9"/>
<circle cx="677.5" cy="252.3" r="3.6" fill="#1a3a66" stroke="#c86a4a" stroke-width="1"/>
<rect x="675.7" y="251.5" width="3.6" height="1.6" fill="#d05a30"/>
<rect x="684.0" y="251.8" width="3" height="5.5" fill="#e0703a"/>
<rect x="681.0" y="252.8" width="2.5" height="4.5" fill="#4a5a78"/>
<rect x="672.5" y="246.3" width="6" height="1" fill="#7ab0d8"/>
<rect x="596.2" y="260.7" width="17.9" height="15.4" fill="#0f2650" stroke="#c8401e" stroke-width="0.9"/>
<circle cx="602.7" cy="268.2" r="3.6" fill="#1a3a66" stroke="#c86a4a" stroke-width="1"/>
<rect x="600.9" y="267.4" width="3.6" height="1.6" fill="#d05a30"/>
<rect x="609.2" y="267.7" width="3" height="5.5" fill="#e0703a"/>
<rect x="606.2" y="268.7" width="2.5" height="4.5" fill="#4a5a78"/>
<rect x="597.7" y="262.2" width="6" height="1" fill="#7ab0d8"/>
<rect x="615.0" y="260.7" width="17.9" height="15.4" fill="#0c1f44" stroke="#2a80b8" stroke-width="0.75"/>
<circle cx="621.5" cy="268.2" r="3.6" fill="#2a5478" stroke="#8ab4d0" stroke-width="0.9"/>
<rect x="619.7" y="267.4" width="3.6" height="1.6" fill="#30c080"/>
<rect x="628.0" y="267.7" width="3" height="5.5" fill="#2ed07a"/>
<rect x="625.0" y="268.7" width="2.5" height="4.5" fill="#4a5a78"/>
<rect x="616.5" y="262.2" width="6" height="1" fill="#7ab0d8"/>
<rect x="633.6" y="260.7" width="17.9" height="15.4" fill="#0c1f44" stroke="#2a80b8" stroke-width="0.75"/>
<circle cx="640.1" cy="268.2" r="3.6" fill="#2a5478" stroke="#8ab4d0" stroke-width="0.9"/>
<rect x="638.3" y="267.4" width="3.6" height="1.6" fill="#30c080"/>
<rect x="646.6" y="267.7" width="3" height="5.5" fill="#2ed07a"/>
<rect x="643.6" y="268.7" width="2.5" height="4.5" fill="#4a5a78"/>
<rect x="635.1" y="262.2" width="6" height="1" fill="#7ab0d8"/>
<rect x="652.4" y="260.7" width="17.9" height="15.4" fill="#0c1f44" stroke="#2a80b8" stroke-width="0.75"/>
<circle cx="658.9" cy="268.2" r="3.6" fill="#2a5478" stroke="#8ab4d0" stroke-width="0.9"/>
<rect x="657.1" y="267.4" width="3.6" height="1.6" fill="#30c080"/>
<rect x="665.4" y="267.7" width="3" height="5.5" fill="#2ed07a"/>
<rect x="662.4" y="268.7" width="2.5" height="4.5" fill="#4a5a78"/>
<rect x="653.9" y="262.2" width="6" height="1" fill="#7ab0d8"/>
<rect x="671.0" y="260.7" width="17.9" height="15.4" fill="#0c1f44" stroke="#2a80b8" stroke-width="0.75"/>
<circle cx="677.5" cy="268.2" r="3.6" fill="#2a5478" stroke="#8ab4d0" stroke-width="0.9"/>
<rect x="675.7" y="267.4" width="3.6" height="1.6" fill="#30c080"/>
<rect x="684.0" y="267.7" width="3" height="5.5" fill="#2ed07a"/>
<rect x="681.0" y="268.7" width="2.5" height="4.5" fill="#4a5a78"/>
<rect x="672.5" y="262.2" width="6" height="1" fill="#7ab0d8"/>
</g>
<!-- labels -->

<!-- wireless antenna icon -->
<g fill="none" stroke="#111" stroke-width="2.6" stroke-linecap="round">
 <path d="M402.61 167.27 A8.7 8.7 0 0 0 402.61 181.53"/>
 <path d="M412.59 167.27 A8.7 8.7 0 0 1 412.59 181.53"/>
 <path d="M397.57 162.45 A15.6 15.6 0 0 0 397.57 186.35"/>
 <path d="M417.63 162.45 A15.6 15.6 0 0 1 417.63 186.35"/>
 <path d="M392.88 158.05 A22.0 22.0 0 0 0 392.88 190.75"/>
 <path d="M422.32 158.05 A22.0 22.0 0 0 1 422.32 190.75"/>
 <line x1="407.6" y1="176" x2="407.6" y2="203.5"/>
</g>
<circle cx="407.6" cy="174.4" r="3.5" fill="#111"/>

<!-- cabinet -->
<g>
 <defs>
  <linearGradient id="cabfront" x1="0" x2="0" y1="0" y2="1">
   <stop offset="0" stop-color="#3c3d42"/><stop offset="0.5" stop-color="#34353a"/><stop offset="1" stop-color="#26272c"/>
  </linearGradient>
  <linearGradient id="lcdframe" x1="0" x2="0" y1="0" y2="1">
   <stop offset="0" stop-color="#dcdee0"/><stop offset="1" stop-color="#c2c4c6"/>
  </linearGradient>
  <linearGradient id="ctrlpanel" x1="0" x2="0" y1="0" y2="1">
   <stop offset="0" stop-color="#56575e"/><stop offset="1" stop-color="#45464c"/>
  </linearGradient>
 </defs>
 <path d="M352.8 243.5 L364.5 242 L461.5 243 L461.5 387 L364.5 387.5 L352.8 386 Z" fill="#222327"/>
 <rect x="364.5" y="242" width="97" height="145.5" fill="url(#cabfront)"/>
 <rect x="364.5" y="242" width="97" height="1.5" fill="#55565b"/>
 <rect x="364.5" y="242" width="2.5" height="145.5" fill="#46474c"/>
 <rect x="352.8" y="243.5" width="11.7" height="1.2" fill="#3a3b40"/>
 <rect x="355.3" y="264.0" width="6.3" height="1.5" fill="#0e0f12"/><rect x="355.3" y="267.1" width="6.3" height="1.5" fill="#0e0f12"/><rect x="355.3" y="270.2" width="6.3" height="1.5" fill="#0e0f12"/><rect x="355.3" y="273.3" width="6.3" height="1.5" fill="#0e0f12"/><rect x="355.3" y="276.4" width="6.3" height="1.5" fill="#0e0f12"/><rect x="355.3" y="279.5" width="6.3" height="1.5" fill="#0e0f12"/><rect x="355.3" y="282.6" width="6.3" height="1.5" fill="#0e0f12"/><rect x="355.3" y="285.7" width="6.3" height="1.5" fill="#0e0f12"/><rect x="355.3" y="288.8" width="6.3" height="1.5" fill="#0e0f12"/><rect x="355.3" y="291.9" width="6.3" height="1.5" fill="#0e0f12"/><rect x="355.3" y="295.0" width="6.3" height="1.5" fill="#0e0f12"/><rect x="355.3" y="298.1" width="6.3" height="1.5" fill="#0e0f12"/><rect x="355.3" y="301.2" width="6.3" height="1.5" fill="#0e0f12"/><rect x="355.3" y="304.3" width="6.3" height="1.5" fill="#0e0f12"/><rect x="355.3" y="307.4" width="6.3" height="1.5" fill="#0e0f12"/><rect x="355.3" y="310.5" width="6.3" height="1.5" fill="#0e0f12"/><rect x="355.3" y="313.6" width="6.3" height="1.5" fill="#0e0f12"/><rect x="355.3" y="316.7" width="6.3" height="1.5" fill="#0e0f12"/><rect x="355.3" y="319.8" width="6.3" height="1.5" fill="#0e0f12"/><rect x="355.3" y="322.9" width="6.3" height="1.5" fill="#0e0f12"/><rect x="355.3" y="326.0" width="6.3" height="1.5" fill="#0e0f12"/><rect x="355.3" y="329.1" width="6.3" height="1.5" fill="#0e0f12"/><rect x="355.3" y="332.2" width="6.3" height="1.5" fill="#0e0f12"/><rect x="355.3" y="335.3" width="6.3" height="1.5" fill="#0e0f12"/><rect x="355.3" y="338.4" width="6.3" height="1.5" fill="#0e0f12"/><rect x="355.3" y="341.5" width="6.3" height="1.5" fill="#0e0f12"/><rect x="355.3" y="344.6" width="6.3" height="1.5" fill="#0e0f12"/><rect x="355.3" y="347.7" width="6.3" height="1.5" fill="#0e0f12"/><rect x="355.3" y="350.8" width="6.3" height="1.5" fill="#0e0f12"/><rect x="355.3" y="353.9" width="6.3" height="1.5" fill="#0e0f12"/>
 <rect x="364" y="358" width="2" height="20" fill="#55565a"/>
 <rect x="378.6" y="251.75" width="75.8" height="67.5" fill="#1c1d20"/>
 <rect x="382.5" y="254.9" width="70.3" height="62" fill="url(#lcdframe)"/>
 <rect x="384.5" y="257" width="66.3" height="58" fill="none" stroke="#e2e4e6" stroke-width="0.6"/>
 <rect x="390" y="259.5" width="9" height="1.2" fill="#999"/>
 <path d="M400 261.5 L405 258.5 L449 258.5" fill="none" stroke="#eee" stroke-width="0.6"/>
 <rect x="391.9" y="267.7" width="52.3" height="35.9" fill="#c2dde0"/>
 <rect x="391.9" y="267.7" width="52.3" height="3" fill="#e8eef0"/>
 <circle cx="393.5" cy="268.7" r="1.2" fill="#f0a030"/>
 <rect x="403" y="268.5" width="20" height="0.9" fill="#667"/>
 <rect x="391.9" y="270.7" width="52.3" height="2.2" fill="#2c3e98"/>
 <rect x="400.0" y="275.0" width="1.6" height="1.4" fill="#556"/><rect x="403.0" y="275.0" width="1.2" height="1.2" fill="#889"/><rect x="406.2" y="273.5" width="0.5" height="5" fill="#9ab4ba"/><rect x="408.8" y="275.0" width="1.6" height="1.4" fill="#556"/><rect x="411.8" y="275.0" width="1.2" height="1.2" fill="#889"/><rect x="415.0" y="273.5" width="0.5" height="5" fill="#9ab4ba"/><rect x="417.6" y="275.0" width="1.6" height="1.4" fill="#556"/><rect x="420.6" y="275.0" width="1.2" height="1.2" fill="#889"/><rect x="423.8" y="273.5" width="0.5" height="5" fill="#9ab4ba"/><rect x="426.4" y="275.0" width="1.6" height="1.4" fill="#556"/><rect x="429.4" y="275.0" width="1.2" height="1.2" fill="#889"/><rect x="432.6" y="273.5" width="0.5" height="5" fill="#9ab4ba"/><rect x="435.2" y="275.0" width="1.6" height="1.4" fill="#556"/><rect x="438.2" y="275.0" width="1.2" height="1.2" fill="#889"/><rect x="400.0" y="281.3" width="1.6" height="1.4" fill="#556"/><rect x="403.0" y="281.3" width="1.2" height="1.2" fill="#889"/><rect x="406.2" y="279.8" width="0.5" height="5" fill="#9ab4ba"/><rect x="408.8" y="281.3" width="1.6" height="1.4" fill="#556"/><rect x="411.8" y="281.3" width="1.2" height="1.2" fill="#889"/><rect x="415.0" y="279.8" width="0.5" height="5" fill="#9ab4ba"/><rect x="417.6" y="281.3" width="1.6" height="1.4" fill="#556"/><rect x="420.6" y="281.3" width="1.2" height="1.2" fill="#889"/><rect x="423.8" y="279.8" width="0.5" height="5" fill="#9ab4ba"/><rect x="426.4" y="281.3" width="1.6" height="1.4" fill="#556"/><rect x="429.4" y="281.3" width="1.2" height="1.2" fill="#889"/><rect x="432.6" y="279.8" width="0.5" height="5" fill="#9ab4ba"/><rect x="435.2" y="281.3" width="1.6" height="1.4" fill="#556"/><rect x="438.2" y="281.3" width="1.2" height="1.2" fill="#889"/><rect x="400.0" y="287.6" width="1.6" height="1.4" fill="#556"/><rect x="403.0" y="287.6" width="1.2" height="1.2" fill="#889"/><rect x="406.2" y="286.1" width="0.5" height="5" fill="#9ab4ba"/><rect x="408.8" y="287.6" width="1.6" height="1.4" fill="#556"/><rect x="411.8" y="287.6" width="1.2" height="1.2" fill="#889"/><rect x="415.0" y="286.1" width="0.5" height="5" fill="#9ab4ba"/><rect x="417.6" y="287.6" width="1.6" height="1.4" fill="#556"/><rect x="420.6" y="287.6" width="1.2" height="1.2" fill="#889"/><rect x="423.8" y="286.1" width="0.5" height="5" fill="#9ab4ba"/><rect x="426.4" y="287.6" width="1.6" height="1.4" fill="#556"/><rect x="429.4" y="287.6" width="1.2" height="1.2" fill="#889"/><rect x="432.6" y="286.1" width="0.5" height="5" fill="#9ab4ba"/><rect x="435.2" y="287.6" width="1.6" height="1.4" fill="#556"/><rect x="438.2" y="287.6" width="1.2" height="1.2" fill="#889"/><rect x="400.0" y="293.9" width="1.6" height="1.4" fill="#556"/><rect x="403.0" y="293.9" width="1.2" height="1.2" fill="#889"/><rect x="406.2" y="292.4" width="0.5" height="5" fill="#9ab4ba"/><rect x="408.8" y="293.9" width="1.6" height="1.4" fill="#556"/><rect x="411.8" y="293.9" width="1.2" height="1.2" fill="#889"/><rect x="415.0" y="292.4" width="0.5" height="5" fill="#9ab4ba"/><rect x="417.6" y="293.9" width="1.6" height="1.4" fill="#556"/><rect x="420.6" y="293.9" width="1.2" height="1.2" fill="#889"/><rect x="423.8" y="292.4" width="0.5" height="5" fill="#9ab4ba"/><rect x="426.4" y="293.9" width="1.6" height="1.4" fill="#556"/><rect x="429.4" y="293.9" width="1.2" height="1.2" fill="#889"/><rect x="432.6" y="292.4" width="0.5" height="5" fill="#9ab4ba"/><rect x="435.2" y="293.9" width="1.6" height="1.4" fill="#556"/><rect x="438.2" y="293.9" width="1.2" height="1.2" fill="#889"/>
 <rect x="436" y="277" width="5.5" height="6" fill="#556" opacity="0.8"/>
 <rect x="391.9" y="301.3" width="52.3" height="2.3" fill="#2c3e98"/>
 <rect x="377.8" y="320.2" width="77.4" height="33.5" fill="url(#ctrlpanel)"/>
 <rect x="377.8" y="320.2" width="77.4" height="0.8" fill="#6a6b72"/>
 <circle cx="403.6" cy="333.4" r="2.3" fill="#111" stroke="#1f9a40" stroke-width="1"/>
 <circle cx="417.2" cy="333.4" r="2.3" fill="#2a1408" stroke="#c0602a" stroke-width="1"/>
 <circle cx="430.6" cy="333.4" r="2.3" fill="#1a0a0a" stroke="#a03030" stroke-width="1"/>
 <g fill="#bbb" opacity="0.7"><rect x="401.5" y="340.8" width="4.5" height="0.8"/><rect x="415" y="340.8" width="4.5" height="0.8"/><rect x="428" y="340.8" width="5.5" height="0.8"/></g>
 <text x="397.3" y="347" font-size="3.4" fill="#f0f0f4" font-family="Liberation Sans" stroke="#f0f0f4" stroke-width="0.15" textLength="50" lengthAdjust="spacingAndGlyphs">济南赛飞电子科技有限公司</text>
 <rect x="397.3" y="348.9" width="46" height="0.7" fill="#aaa" opacity="0.5"/>
 <circle cx="390.3" cy="348.4" r="2.6" fill="none" stroke="#e07020" stroke-width="1.2"/>
 <path d="M388 348.4 A2.3 2.3 0 0 1 390.3 346" fill="none" stroke="#2a90d0" stroke-width="1.2"/>
 <rect x="364.5" y="385.5" width="97" height="2" fill="#1a1b1e"/>
</g>

<!-- wired bus -->
<g stroke="#4a4a4a" stroke-width="1.3" fill="none">
 <line x1="418.2" y1="387.5" x2="418.2" y2="421"/>
 <path d="M96 464 L96 420.7 L652 420.7 L652 464"/>
 <line x1="239.75" y1="420.7" x2="239.75" y2="460"/>
 <line x1="373.5" y1="420.7" x2="373.5" y2="462"/>
 <line x1="515" y1="420.7" x2="515" y2="460"/>
</g>

<!-- bottom devices -->
<use href="#t1000" transform="translate(129.5 481.5)"/>
<use href="#alarm" transform="translate(161 453)"/>
<use href="#t700" transform="translate(275 485)"/>
<use href="#alarm" transform="translate(313.7 452.75) scale(1.1 1)"/>
<use href="#t1000" transform="translate(405.6 481.5)"/>
<use href="#alarm" transform="translate(437.5 453)"/>
<use href="#t700" transform="translate(549.5 485)"/>
<use href="#alarm" transform="translate(586.7 452.75) scale(1.1 1)"/>
<use href="#t1000" transform="translate(682.4 481.5)"/>
<use href="#alarm" transform="translate(714.5 453)"/>


<!-- top-left devices -->
<line x1="180" y1="182.5" x2="219" y2="182.5" stroke="#6a6a6a" stroke-width="1.2"/>
<rect x="186.4" y="159" width="6.5" height="11.5" fill="url(#silver2)"/>
<use href="#t700" transform="translate(159 182.5) scale(0.88 0.9)"/>
<use href="#alarm" transform="translate(191.6 154.3) scale(0.97 0.84)"/>
<line x1="220.5" y1="107.5" x2="220.5" y2="168" stroke="#8a8a8a" stroke-width="1.3"/>
<line x1="220.5" y1="112" x2="220.5" y2="118" stroke="#222" stroke-width="1.3"/>
<line x1="220.5" y1="150" x2="220.5" y2="155" stroke="#222" stroke-width="1.3"/>
<line x1="220.5" y1="166" x2="220.5" y2="182.5" stroke="#1a1a1a" stroke-width="2.3"/>
<use href="#lora" transform="translate(217.3 182.1)"/>
<g fill="none" stroke="#151515" stroke-width="1.8" stroke-linecap="round">
 <path d="M273.1 191.6 Q279.65 198.75 271.6 206.9"/>
 <path d="M278.1 187.5 Q287.55 199.3 275.6 211.9"/>
 <path d="M283.1 183.4 Q295.95 197.85 280 216.9"/>
</g>

<line x1="180" y1="306.4" x2="219" y2="306.4" stroke="#6a6a6a" stroke-width="1.2"/>
<use href="#t1000" transform="translate(159.5 300) scale(0.9 0.88)"/>
<g transform="translate(187.75 273.75) scale(0.88 1)">
 <path d="M1 1 L1 -4 Q1 -10.2 8.5 -10.2 Q16 -10.2 16 -4 L16 1 Z" fill="url(#reddome)"/>
 <path d="M1 0 L16 0 L16 27.2 Q16 28.2 15 28.2 L2 28.2 Q1 28.2 1 27.2 Z" fill="url(#silverA)"/>
 <rect x="1" y="0" width="15" height="2" fill="#1a1a1a" opacity="0.85"/>
 <rect x="1" y="23" width="15" height="0.8" fill="#b08a50" opacity="0.6"/>
</g>
<line x1="220.25" y1="249" x2="220.25" y2="290" stroke="#8a8a8a" stroke-width="1.3"/>
<line x1="220.25" y1="277" x2="220.25" y2="282" stroke="#222" stroke-width="1.3"/>
<line x1="220.25" y1="289" x2="220.25" y2="306" stroke="#1a1a1a" stroke-width="2.3"/>
<use href="#lora" transform="translate(217.5 305) scale(0.99 1.02)"/>
<g fill="none" stroke="#151515" stroke-width="1.8" stroke-linecap="round">
 <path d="M261.6 308.4 Q269 316 261.6 323.75"/>
 <path d="M266.6 304.1 Q277.3 316.2 266.25 328.4"/>
 <path d="M271.25 299.4 Q286.3 316.2 270.6 333.1"/>
</g>

<!-- labels2 -->
<text class="lbl" x="606.55" y="157.16" font-size="13.76" textLength="42.00" lengthAdjust="spacing" fill="#525252">上位机</text>
<text class="lbl" x="588.33" y="330.00" font-size="16.67" textLength="87.33" lengthAdjust="spacing" fill="#525252">智慧云平台</text>
<text class="lbl" x="351.46" y="228.58" font-size="13.55" textLength="29.28" lengthAdjust="spacing" fill="#525252">无线</text>
<text class="lbl" x="381.10" y="228.75" font-size="15.33" textLength="36.76" lengthAdjust="spacingAndGlyphs" fill="#525252">LORA</text>
<text class="lbl" x="418.21" y="228.58" font-size="13.55" textLength="44.83" lengthAdjust="spacing" fill="#525252">接收端</text>
<text class="lbl" x="199.47" y="217.92" font-size="10.86" textLength="21.07" lengthAdjust="spacing" fill="#525252">无线</text>
<text class="lbl" x="221.13" y="217.25" font-size="11.86" textLength="27.99" lengthAdjust="spacingAndGlyphs" fill="#525252">LORA</text>
<text class="lbl" x="199.47" y="341.32" font-size="10.86" textLength="21.07" lengthAdjust="spacing" fill="#525252">无线</text>
<text class="lbl" x="221.13" y="340.65" font-size="11.86" textLength="27.39" lengthAdjust="spacingAndGlyphs" fill="#525252">LORA</text>
<text class="lbl" x="78.22" y="558.75" font-size="17.75" textLength="72.79" lengthAdjust="spacingAndGlyphs" fill="#525252">HD-T1000</text>
<text class="lbl" x="152.27" y="558.01" font-size="14.30" textLength="43.61" lengthAdjust="spacing" fill="#525252">探测器</text>
<text class="lbl" x="221.52" y="558.75" font-size="17.75" textLength="62.91" lengthAdjust="spacingAndGlyphs" fill="#525252">HD-T700</text>
<text class="lbl" x="285.69" y="558.01" font-size="14.30" textLength="43.69" lengthAdjust="spacing" fill="#525252">探测器</text>
<text class="lbl" x="353.82" y="558.75" font-size="17.75" textLength="73.01" lengthAdjust="spacingAndGlyphs" fill="#525252">HD-T1000</text>
<text class="lbl" x="428.08" y="558.01" font-size="14.30" textLength="43.74" lengthAdjust="spacing" fill="#525252">探测器</text>
<text class="lbl" x="498.02" y="558.75" font-size="17.75" textLength="62.91" lengthAdjust="spacingAndGlyphs" fill="#525252">HD-T700</text>
<text class="lbl" x="562.19" y="558.01" font-size="14.30" textLength="43.69" lengthAdjust="spacing" fill="#525252">探测器</text>
<text class="lbl" x="632.07" y="558.75" font-size="17.75" textLength="72.57" lengthAdjust="spacingAndGlyphs" fill="#525252">HD-T1000</text>
<text class="lbl" x="705.90" y="558.01" font-size="14.30" textLength="43.47" lengthAdjust="spacing" fill="#525252">探测器</text>
<text class="lbl" x="123.84" y="243.50" font-size="16.16" textLength="55.76" lengthAdjust="spacingAndGlyphs" fill="#525252">HD-T700</text>
<text class="lbl" x="180.91" y="243.02" font-size="13.12" textLength="38.61" lengthAdjust="spacing" fill="#525252">探测器</text>
<text class="lbl" x="126.84" y="364.50" font-size="15.86" textLength="63.61" lengthAdjust="spacingAndGlyphs" fill="#525252">HD-T1000</text>
<text class="lbl" x="191.79" y="364.06" font-size="12.69" textLength="37.97" lengthAdjust="spacing" fill="#525252">探测器</text>
<!-- dotted separators -->
<line x1="285" y1="614" x2="285" y2="750" stroke="#1b1d4a" stroke-width="2.4" stroke-dasharray="4.5 4.7"/>
<line x1="525.8" y1="614" x2="525.8" y2="750" stroke="#1b1d4a" stroke-width="2.4" stroke-dasharray="4.5 4.7"/>

<!-- phone 1 -->
<g>
 <defs>
  <linearGradient id="frame" x1="0" x2="1" y1="0" y2="0">
   <stop offset="0" stop-color="#9a9a9a"/><stop offset="0.03" stop-color="#d8d8d8"/><stop offset="0.06" stop-color="#3a3a3a"/>
   <stop offset="0.94" stop-color="#3a3a3a"/><stop offset="0.97" stop-color="#d0d0d0"/><stop offset="1" stop-color="#8a8a8a"/>
  </linearGradient>
  <linearGradient id="sheen1" x1="0" y1="0" x2="1" y2="0.3">
   <stop offset="0" stop-color="#4a4a4a"/><stop offset="1" stop-color="#353535"/>
  </linearGradient>
 </defs>
 <rect x="104.2" y="579.5" width="119.9" height="200" rx="16" fill="url(#pframe)"/>
 <rect x="105.2" y="580.5" width="117.9" height="200" rx="15" fill="#4a4a4a" opacity="0.5"/>
 <rect x="108.4" y="582.8" width="111.5" height="200" rx="12.5" fill="#0a0a0a"/>
 <clipPath id="p1clip"><rect x="109.5" y="584.5" width="109.5" height="200" rx="11"/></clipPath>
 <g clip-path="url(#p1clip)">
  <rect x="109.5" y="584.5" width="109.5" height="200" fill="#262626"/>
  <path d="M132 584.5 L219 584.5 L219 760 L190 760 Z" fill="url(#sheen1)"/>
 </g>
 <path d="M135 584.5 L193.3 584.5 L193.3 588.5 Q193.3 593.2 188.6 593.2 L139.7 593.2 Q135 593.2 135 588.5 Z" fill="#050505"/>
 <rect x="154" y="587.5" width="14" height="1.2" rx="0.6" fill="#333"/>
 <path d="M116 591 L123 587 L123 591 Z" fill="#ddd"/>
 <rect x="208" y="588" width="5" height="2.5" fill="#ddd"/>
 <circle cx="163.5" cy="650.5" r="34" fill="none" stroke="#8a8a8a" stroke-width="1.4"/>
 <clipPath id="avclip"><circle cx="163.5" cy="650.5" r="33.3"/></clipPath>
 <g clip-path="url(#avclip)" fill="#fff" fill-opacity="0.3">
  <path d="M149.5 640 Q148 630 152 625 Q157 621 164 621.5 Q172 621.5 176 625 Q179 630 177.5 640 L177 644 Q176 652 170 656.5 L170 666 L176 667 Q188 669 190.5 677 L191 692 L136 692 L136.5 677 Q139 669 151 667 L157 666 L157 656.5 Q151 652 150 644 Z"/>
 </g>
 <path d="M149.5 634 Q148.5 626 153 623.5 Q158 621 164 621.5 Q171 621.5 175.5 624 Q179 628 177.5 636 Q175 630 170 629 Q166 633 158 632 Q152 632 149.5 634 Z" fill="#fff" fill-opacity="0.07"/>
 <path d="M157 660 Q163.5 664 170 660 L170 664 Q163.5 669 157 664 Z" fill="#000" fill-opacity="0.08"/>
 <path d="M139 674 Q150 669 163.5 672 Q177 669 189 674" fill="none" stroke="#000" stroke-opacity="0.06" stroke-width="1"/>
 <circle cx="141" cy="738" r="11.3" fill="none" stroke="#4ed62a" stroke-width="1.9"/>
 <path d="M135.5 731.5 Q132.5 735 137 740.5 Q142 746 146 744 L147.5 742 L144 738.8 L142 740.3 Q138.8 737.8 137.9 735.2 L139.6 733.6 L137.5 729.6 Z" fill="#4ed62a"/>
 <circle cx="190" cy="738" r="11.3" fill="none" stroke="#d82020" stroke-width="1.4"/>
 <path d="M181 739 Q190 730 199 739 L197.5 742.5 L193.5 741 L193.5 738 Q190 736.5 186.5 738 L186.5 741 L182.5 742.5 Z" fill="#e81c1c"/>
</g>

<!-- phone 2 -->
<g>
 <defs>
  <linearGradient id="p2bg" x1="0" y1="0" x2="0" y2="1">
   <stop offset="0" stop-color="#1176c6"/><stop offset="0.4" stop-color="#1a8cd8"/><stop offset="1" stop-color="#2c9ade"/>
  </linearGradient>
  <linearGradient id="p2org" x1="0" y1="0" x2="1" y2="1">
   <stop offset="0" stop-color="#e89a60"/><stop offset="0.5" stop-color="#f4b47a"/><stop offset="1" stop-color="#f6cfa0"/>
  </linearGradient>
 </defs>
 <rect x="347.2" y="580.5" width="116.3" height="200" rx="15" fill="url(#pframe)"/>
 <rect x="348.2" y="581.5" width="114.3" height="200" rx="14" fill="#4a4a4a" opacity="0.5"/>
 <rect x="351" y="583.5" width="109.2" height="200" rx="11.5" fill="#0a0a0a"/>
 <clipPath id="p2clip"><rect x="352.5" y="585.5" width="107.2" height="200" rx="10"/></clipPath>
 <g clip-path="url(#p2clip)">
  <rect x="352.5" y="585.5" width="107.2" height="175" fill="url(#p2bg)"/>
  <path d="M398 680 Q410 664 432 661 Q452 659 462 668 L462 676 Q448 668 432 670 Q414 674 405 684 Z" fill="#e08a2a"/>
  <path d="M410 676 Q422 666 440 665 L446 668 Q428 670 418 678 Z" fill="#ffd890" opacity="0.9"/>
  <path d="M352 722 Q368 706 396 708 Q403 732 409 760 L352 760 Z" fill="url(#p2org)"/>
  <path d="M352 708 L352 745 Q356 725 372 712 Z" fill="#3a92d4"/>
  <path d="M396 708 Q430 703 462 708 L462 760 L409 760 Q403 732 396 708 Z" fill="#92d0ee"/>
  <path d="M394 709 Q401 732 406 760 L410 760 Q405 732 399 709 Z" fill="#fff2dc" opacity="0.8"/>
  <path d="M372 760 Q376 735 385 712 L389 712 Q381 735 378 760 Z" fill="#fde0bc" opacity="0.7"/>
 </g>
 <path d="M377.3 585.5 L435.7 585.5 L435.7 588.8 Q435.7 593 431.5 593 L381.5 593 Q377.3 593 377.3 588.8 Z" fill="#050505"/>
 <rect x="353.3" y="587.8" width="25.5" height="9.7" rx="4.8" fill="#070707"/>
 <rect x="451" y="589" width="5.5" height="2.6" fill="#fff"/>
 <g fill="none" stroke="#eaf5fd" stroke-width="1.35"><rect x="380.70" y="624.5" width="8.70" height="14.1" rx="4.35"/><ellipse cx="396.90" cy="627.6" rx="3.6" ry="3.1"/><ellipse cx="396.90" cy="634.9" rx="4.50" ry="3.75"/><rect x="410.20" y="624.5" width="8.70" height="14.1" rx="4.35"/><ellipse cx="426.15" cy="627.6" rx="3.6" ry="3.1"/><ellipse cx="426.15" cy="634.9" rx="4.35" ry="3.75"/></g><circle cx="405.6" cy="629.2" r="0.85" fill="#eaf5fd"/><circle cx="405.6" cy="634.7" r="0.85" fill="#eaf5fd"/>
 <text x="384.7" y="651" font-size="5.5" fill="#d8ecff" textLength="41.3" lengthAdjust="spacingAndGlyphs" font-family="Liberation Sans">04月08日星期三</text>
 <rect x="354.3" y="676" width="103.2" height="33.7" rx="4" fill="#e4eaf3" opacity="0.93"/>
 <g font-family="Liberation Sans" fill="#000" font-size="7.2" stroke="#000" stroke-width="0.25">
  <text x="358.5" y="686.5" textLength="96" lengthAdjust="spacingAndGlyphs">【项目名称】二期主机房(通道)-氧气浓度</text>
  <text x="357" y="695" textLength="99" lengthAdjust="spacingAndGlyphs">检测仪发生报警，当前值：28.0%VOL，</text>
  <text x="357" y="704" textLength="46" lengthAdjust="spacingAndGlyphs">阈值：25.0%VOL。</text>
 </g>
</g>

<!-- phone 3 -->
<g>
 <rect x="587.2" y="580.3" width="116.3" height="200" rx="15" fill="url(#pframe)"/>
 <rect x="588.2" y="581.3" width="114.3" height="200" rx="14" fill="#4a4a4a" opacity="0.5"/>
 <rect x="591.8" y="583.3" width="108.6" height="200" rx="11.5" fill="#0a0a0a"/>
 <clipPath id="p3clip"><rect x="593.3" y="584.8" width="105.7" height="200" rx="10"/></clipPath>
 <g clip-path="url(#p3clip)">
  <rect x="593.3" y="584.8" width="105.7" height="175" fill="#ffffff"/>
  <rect x="593.3" y="584.8" width="105.7" height="20.2" fill="#e98a2a"/>
  <rect x="593.3" y="605" width="105.7" height="12" fill="#474b52"/>
  <rect x="640" y="605" width="59" height="12" fill="#5c5650"/>
  <rect x="617" y="605" width="34" height="12" fill="#6a6a6a"/>
  <rect x="617" y="606.3" width="19" height="7.7" rx="1" fill="#c8ccd0"/>
  <rect x="620" y="609.5" width="14" height="1.5" fill="#e07030"/>
 </g>
 <path d="M616.5 584.8 L675 584.8 L675 588.8 Q675 593 670.8 593 L620.7 593 Q616.5 593 616.5 588.8 Z" fill="#050505"/>
 <text x="603" y="591" font-size="5" fill="#fff" font-family="Liberation Sans">18:37</text>
 <rect x="686" y="588.5" width="5" height="2.5" fill="#fff"/>
 <text x="640.5" y="600.5" font-size="6" fill="#fff" font-family="Liberation Sans" textLength="11" lengthAdjust="spacingAndGlyphs">首页</text>
 <circle cx="640" cy="613.5" r="0.9" fill="#ddd"/><circle cx="644" cy="613.5" r="0.9" fill="#fff"/><circle cx="648" cy="613.5" r="0.9" fill="#ddd"/>
 <circle cx="611.7" cy="629.8" r="8.5" fill="#f0582a"/>
 <circle cx="646.5" cy="629.8" r="8.5" fill="#3a7ef0"/>
 <circle cx="681.3" cy="629.8" r="8.5" fill="#38a838"/>
 <circle cx="611.7" cy="657.2" r="8.5" fill="#c0281e"/>
 <circle cx="646.5" cy="657.2" r="8.5" fill="#7a5af0"/>
 <circle cx="681.3" cy="657.2" r="8.5" fill="#3ec8a0"/>
 <g fill="#fff">
  <path d="M614.5 623.2 Q617.6 623.2 617.6 626.2 Q617.6 628.3 614.5 631.5 Q611.4 628.3 611.4 626.2 Q611.4 623.2 614.5 623.2 Z"/>
  <rect x="606.2" y="629.3" width="6.5" height="2.1" rx="0.8"/><rect x="605.8" y="632.3" width="11.5" height="2.3" rx="0.8"/>
  <path d="M676.5 635 L678 628.5 L680 629.5 L682.6 628.3 L684.6 629.3 L686.1 635 Z"/>
  <path d="M608 651.5 L614.5 650.5 L616.5 660.5 L610 662 Z" transform="rotate(-10 612 656)"/>
 </g>
 <circle cx="614.5" cy="626.2" r="1.1" fill="#f0582a"/>
 <path d="M609.5 653.5 L614 652.8 M610 656.3 L614.5 655.6 M610.5 659 L615 658.3" stroke="#c0281e" stroke-width="0.8" transform="rotate(-10 612 656)"/>
 <path d="M681.3 622.8 Q683.8 622.8 683.8 625.2 Q683.8 627 681.3 630 Q678.8 627 678.8 625.2 Q678.8 622.8 681.3 622.8 Z" fill="#fff" stroke="#38a838" stroke-width="0.5"/>
 <circle cx="681.3" cy="625.2" r="0.9" fill="#38a838"/>
 <rect x="641.8" y="625" width="9.4" height="9.4" rx="2" fill="none" stroke="#fff" stroke-width="1.2"/>
 <circle cx="646.5" cy="629.7" r="2.4" fill="none" stroke="#fff" stroke-width="1.1"/>
 <path d="M640 629.7 L644 629.7 M649 629.7 L653 629.7" stroke="#fff" stroke-width="0.9"/>
 <g stroke="#fff" stroke-width="1.6" stroke-linecap="round">
  <path d="M642.5 653 L650.5 661.5"/><path d="M650.8 652.8 L642.5 661"/>
 </g>
 <circle cx="651" cy="652.5" r="1.8" fill="none" stroke="#fff" stroke-width="1.1"/>
 <path d="M676.8 651.8 L681.3 650.2 L685.8 651.8 L685.8 656.8 Q685.8 661 681.3 663.2 Q676.8 661 676.8 656.8 Z" fill="none" stroke="#fff" stroke-width="1.2"/>
 <path d="M681.3 653.6 L681.3 660 M678.1 656.8 L684.5 656.8" stroke="#fff" stroke-width="1.2"/>
 <g font-family="Liberation Sans" font-size="4.4" fill="#3a3a3a" stroke="#3a3a3a" stroke-width="0.2">
  <text x="605" y="644.5" textLength="14" lengthAdjust="spacingAndGlyphs">安装管理</text>
  <text x="639.5" y="644.5" textLength="14" lengthAdjust="spacingAndGlyphs">设备管理</text>
  <text x="674.3" y="644.5" textLength="14" lengthAdjust="spacingAndGlyphs">地图模式</text>
  <text x="605" y="672" textLength="14" lengthAdjust="spacingAndGlyphs">报警记录</text>
  <text x="639.5" y="672" textLength="14" lengthAdjust="spacingAndGlyphs">故障申报</text>
  <text x="674.3" y="672" textLength="14" lengthAdjust="spacingAndGlyphs">自检报表</text>
 </g>
 <text x="599.3" y="687.3" font-size="4.6" fill="#333" font-family="Liberation Sans" textLength="24" lengthAdjust="spacingAndGlyphs">最新报警记录</text>
 <text x="674.3" y="687.3" font-size="4.6" fill="#999" font-family="Liberation Sans" textLength="18.7" lengthAdjust="spacingAndGlyphs">查看全部 &gt;</text>
 <defs>
  <pattern id="stripe" width="3" height="3" patternUnits="userSpaceOnUse" patternTransform="rotate(45)">
   <rect width="3" height="3" fill="#fdf5f5"/><rect width="1" height="3" fill="#f6dede"/>
  </pattern>
 </defs>
 <rect x="594.7" y="693" width="102" height="18" fill="url(#stripe)"/>
 <path d="M594.7 697 L599 693 L600.5 693 L594.7 698.5 Z M594.7 700 L602 693 L603 693 L594.7 701 Z" fill="#e83030"/>
 <circle cx="602" cy="702" r="5" fill="#fff" stroke="#e06060" stroke-width="0.8"/>
 <path d="M599.5 704 L602 700 L604.5 704 Z" fill="#c84a2a"/>
 <text x="610" y="701.2" font-size="3.6" fill="#333" font-family="Liberation Sans" textLength="74" lengthAdjust="spacingAndGlyphs">38AN2006ZRM工业气体探测器出现报警</text>
 <text x="610.5" y="705.8" font-size="2.6" fill="#999" font-family="Liberation Sans" textLength="71" lengthAdjust="spacingAndGlyphs">● 广西壮族自治区防城港市港口区(undefinedundefined)</text>
 <g font-family="Liberation Sans" font-size="3.2" fill="#b09878">
  <text x="599" y="717" textLength="12" lengthAdjust="spacingAndGlyphs">报警人员</text>
  <text x="631" y="717" textLength="13" lengthAdjust="spacingAndGlyphs">最近报警</text>
  <text x="665" y="717" textLength="9" lengthAdjust="spacingAndGlyphs">通道号</text>
  <text x="687" y="717" textLength="10" lengthAdjust="spacingAndGlyphs">检测值</text>
 </g>
 <g font-family="Liberation Sans" font-size="3.8" fill="#4a3a2a" stroke="#4a3a2a" stroke-width="0.2">
  <text x="599" y="723.6" textLength="7" lengthAdjust="spacingAndGlyphs">谢鹏</text>
  <text x="631" y="723.6" textLength="21" lengthAdjust="spacingAndGlyphs">2022-03-31</text>
  <text x="665" y="723.6">1</text>
  <text x="687" y="723.6" textLength="12" lengthAdjust="spacingAndGlyphs">19.06%</text>
  <text x="632" y="729.6" textLength="14" lengthAdjust="spacingAndGlyphs">18:25:30</text>
 </g>
 <text x="599" y="729.2" font-size="2.8" fill="#4a7ad8" font-family="Liberation Sans" textLength="21" lengthAdjust="spacingAndGlyphs">18888282306</text>
 <rect x="594.7" y="735.8" width="102" height="20" fill="url(#stripe)"/>
 <path d="M594.7 740 L599 735.8 L600.5 735.8 L594.7 741.5 Z M594.7 743 L602 735.8 L603 735.8 L594.7 744 Z" fill="#e83030"/>
 <circle cx="602" cy="745" r="5" fill="#fff" stroke="#e06060" stroke-width="0.8"/>
 <path d="M599.5 747 L602 743 L604.5 747 Z" fill="#c84a2a"/>
 <text x="610" y="744.2" font-size="3.6" fill="#333" font-family="Liberation Sans" textLength="74" lengthAdjust="spacingAndGlyphs">38AN1705ZRM工业气体探测器出现报警</text>
 <text x="610.5" y="748.8" font-size="2.6" fill="#999" font-family="Liberation Sans" textLength="71" lengthAdjust="spacingAndGlyphs">● 广西壮族自治区防城港市港口区(undefinedundefined)</text>
</g>

<!-- bottom bar -->
<rect x="0" y="754" width="800" height="1" fill="#f6fbff"/>
<rect x="0" y="755" width="800" height="45" fill="#0050d8"/>
<rect x="0" y="755" width="800" height="1.2" fill="#0040c2"/>
<text x="119.8" y="787.2" font-size="21" fill="#fff" font-weight="bold" font-family="Liberation Serif" textLength="81.5" lengthAdjust="spacingAndGlyphs">电话提醒</text>
<text x="367.6" y="787.2" font-size="21" fill="#fff" font-weight="bold" font-family="Liberation Serif" textLength="81.5" lengthAdjust="spacingAndGlyphs">短信通知</text>
<text x="605.2" y="787.2" font-size="21" fill="#fff" font-weight="bold" font-family="Liberation Serif" textLength="78.8" lengthAdjust="spacingAndGlyphs">APP推送</text>
</svg>
</body></html>
